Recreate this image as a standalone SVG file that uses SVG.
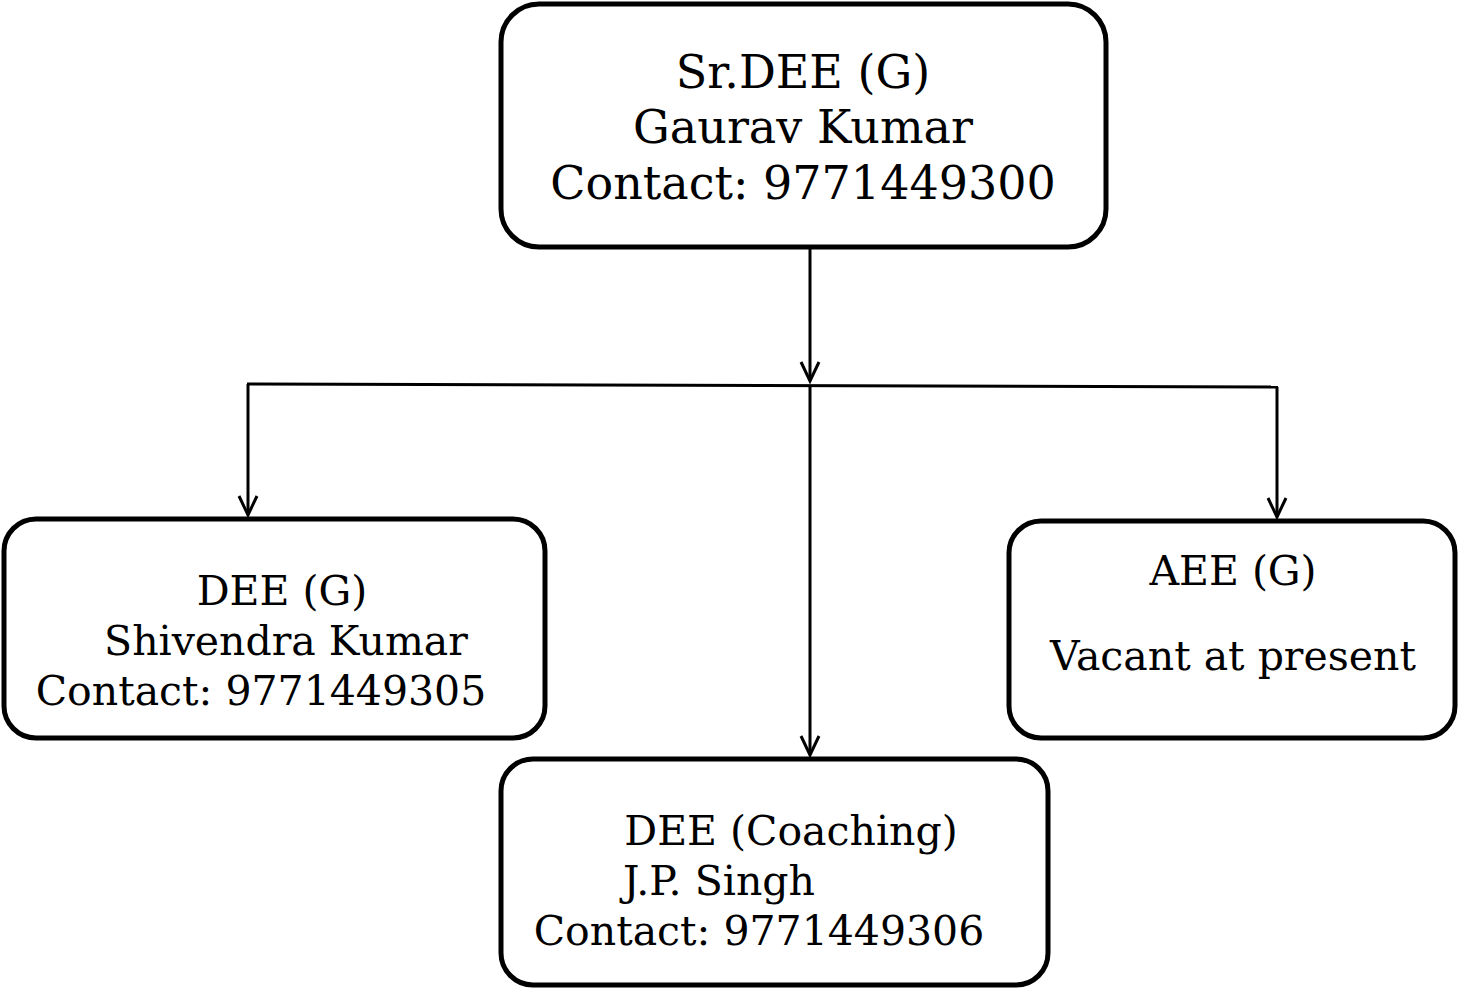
<svg xmlns="http://www.w3.org/2000/svg" width="1458" height="989" viewBox="0 0 1458 989">
<defs>
<marker id="arr" viewBox="0 0 24 24" refX="21" refY="12" markerWidth="24" markerHeight="24" markerUnits="userSpaceOnUse" orient="auto">
<path d="M2,3 L21,12 L2,21" fill="none" stroke="#000" stroke-width="3"/>
</marker>
<style>
.box{fill:#fff;stroke:#000;stroke-width:5}
.t{font-family:"DejaVu Serif","Liberation Serif",serif;fill:#000}
.big{font-size:46px}
.mid{font-size:41px}
.ln{stroke:#000;stroke-width:3;fill:none}
</style>
</defs>
<rect width="1458" height="989" fill="#fff"/>
<g id="connectors">
<line class="ln" x1="810" y1="249" x2="810" y2="381" marker-end="url(#arr)"/>
<line class="ln" x1="247" y1="384" x2="1278" y2="387"/>
<line class="ln" x1="810" y1="385" x2="810" y2="755" marker-end="url(#arr)"/>
<line class="ln" x1="248" y1="384" x2="248" y2="515" marker-end="url(#arr)"/>
<line class="ln" x1="1277" y1="387" x2="1277" y2="517" marker-end="url(#arr)"/>
</g>
<g id="node-sr-dee">
<rect class="box" x="501" y="4" width="605" height="243" rx="38"/>
<text class="t big" x="803" y="88" text-anchor="middle">Sr.DEE (G)</text>
<text class="t big" x="803" y="143" text-anchor="middle">Gaurav Kumar</text>
<text class="t big" x="803" y="199" text-anchor="middle">Contact: 9771449300</text>
</g>
<g id="node-dee-g">
<rect class="box" x="4" y="519" width="541" height="219" rx="32"/>
<text class="t mid" x="282" y="605" text-anchor="middle">DEE (G)</text>
<text class="t mid" x="286" y="655" text-anchor="middle">Shivendra Kumar</text>
<text class="t mid" x="261" y="705" text-anchor="middle">Contact: 9771449305</text>
</g>
<g id="node-aee-g">
<rect class="box" x="1009" y="521" width="446" height="217" rx="32"/>
<text class="t mid" x="1233" y="585" text-anchor="middle">AEE (G)</text>
<text class="t mid" x="1233" y="670" text-anchor="middle">Vacant at present</text>
</g>
<g id="node-dee-coaching">
<rect class="box" x="501" y="759" width="547" height="226" rx="32"/>
<text class="t mid" x="791" y="845" text-anchor="middle">DEE (Coaching)</text>
<text class="t mid" x="719" y="895" text-anchor="middle">J.P. Singh</text>
<text class="t mid" x="759" y="945" text-anchor="middle">Contact: 9771449306</text>
</g>
</svg>
